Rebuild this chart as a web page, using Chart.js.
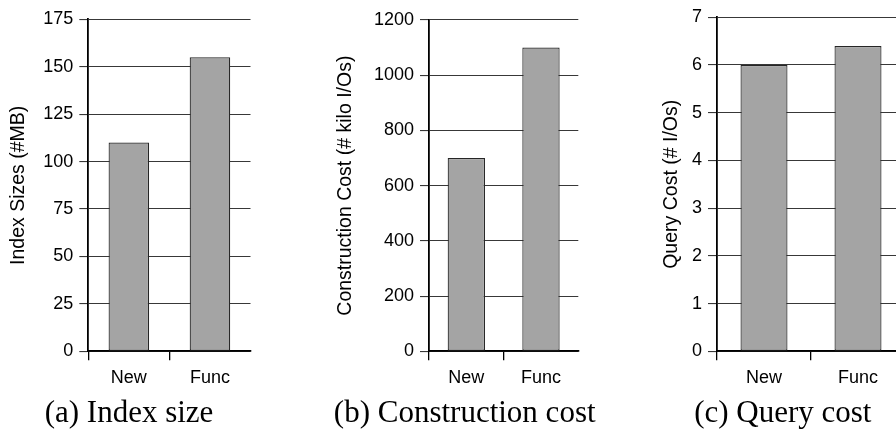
<!DOCTYPE html>
<html>
<head>
<meta charset="utf-8">
<script src="https://cdn.jsdelivr.net/npm/chart.js@4/dist/chart.umd.min.js"></script>
<style>
  html, body { margin: 0; padding: 0; background: #fff; width: 896px; height: 434px; overflow: hidden; }
  .panel { position: absolute; top: 0; }
  .caption {
    position: absolute; top: 396px;
    font-family: "Liberation Serif", serif; font-size: 31px; line-height: 31px;
    white-space: nowrap; transform: translateX(-50%); color: #000;
  }
</style>
</head>
<body>
<canvas id="indexSize" class="panel" width="258" height="434" style="left:0px"></canvas>
<canvas id="constructionCost" class="panel" width="260" height="434" style="left:326.5px"></canvas>
<canvas id="queryCost" class="panel" width="260" height="434" style="left:653px"></canvas>

<div class="caption" style="left:129px">(a) Index size</div>
<div class="caption" style="left:464.7px">(b) Construction cost</div>
<div class="caption" style="left:782.8px">(c) Query cost</div>

<script>
// data
const categories = ["New", "Func"];
const indexSizesMB = [110, 155];
const constructionKiloIOs = [700, 1100];
const queryIOs = [6, 6.4];

// y axis ranges: [max, step]
const indexSizeRange = [175, 25];
const constructionRange = [1200, 200];
const queryRange = [7, 1];

Chart.defaults.font.family = '"Liberation Sans", Arial, sans-serif';

/**
 * Builds one bar panel.
 * axisWidth = width of the y axis box, padTop/padRight = layout padding
 */
const createBarGraph = (canvas, data, yTitle, range, axisWidth, padTop, padRight) => {
  const ctx = canvas.getContext("2d");

  return new Chart(ctx, {
    type: "bar",
    data: {
      labels: categories,
      datasets: [
        {
          data: data,
          backgroundColor: "#a4a4a4",
          borderColor: "#262626",
          borderWidth: 1.2,
          borderSkipped: false,
          barPercentage: 0.5,
          categoryPercentage: 1,
        },
      ],
    },
    options: {
      responsive: false,
      animation: false,
      devicePixelRatio: 1,
      layout: {
        padding: { top: padTop, right: padRight, bottom: 41.4, left: 0 },
      },
      plugins: {
        legend: { display: false },
        tooltip: { enabled: false },
      },
      scales: {
        x: {
          offset: true,
          grid: {
            offset: true,
            drawOnChartArea: false,
            tickLength: 9,
            lineWidth: 1.3,
            // tick marks only at the left edge and between the bars
            color: (c) => (c.type === "tick" ? "#000" : "rgba(0,0,0,0)"),
          },
          border: { color: "#000", width: 1.8 },
          ticks: { color: "#000", font: { size: 18 }, padding: 6.5 },
          afterFit: (scale) => {
            scale.height = 41.3;
          },
        },
        y: {
          min: 0,
          max: range[0],
          ticks: {
            stepSize: range[1],
            color: "#000",
            font: { size: 18 },
            padding: 6,
            format: { useGrouping: false },
          },
          grid: { color: "#383838", lineWidth: 1.1, tickLength: 9 },
          border: { color: "#000", width: 1.8 },
          title: {
            display: true,
            text: yTitle,
            color: "#000",
            font: { size: 19.5 },
            padding: { top: 7.3, bottom: 0 },
          },
          afterFit: (scale) => {
            scale.width = axisWidth;
          },
        },
      },
    },
  });
};

createBarGraph(document.getElementById("indexSize"), indexSizesMB,
  "Index Sizes (#MB)", indexSizeRange, 88.3, 19.3, 7.5);
createBarGraph(document.getElementById("constructionCost"), constructionKiloIOs,
  "Construction Cost (# kilo I/Os)", constructionRange, 102, 20, 8.7);
createBarGraph(document.getElementById("queryCost"), queryIOs,
  "Query Cost (# I/Os)", queryRange, 64, 17.3, 8);
</script>
</body>
</html>
